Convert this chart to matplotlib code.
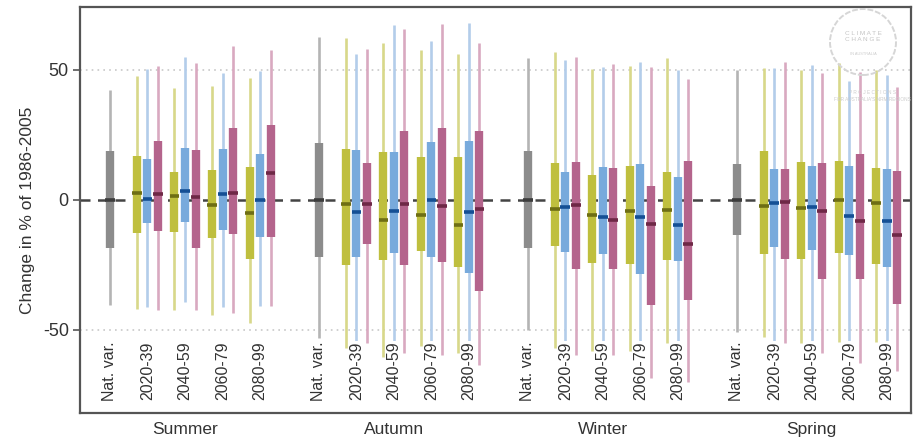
import matplotlib
matplotlib.use("Agg")
import matplotlib.pyplot as plt
from matplotlib.patches import Ellipse

plt.rcParams['font.family'] = ['Liberation Sans', 'DejaVu Sans']

seasons = ['Summer', 'Autumn', 'Winter', 'Spring']
periods = ['2020-39', '2040-59', '2060-79', '2080-99']

# natural variability, one value per season
nat_top = [42.3, 62.8, 54.7, 50.0]
nat_hi = [18.8, 22.0, 19.0, 13.7]
nat_med = [0.0, 0.0, 0.0, 0.0]
nat_lo = [-18.6, -21.8, -18.6, -13.5]
nat_bot = [-40.4, -53.0, -50.0, -51.0]

# scenarios: rows = seasons, columns = periods
rcp26_top = [[47.7, 43.2, 43.8, 46.8], [62.2, 60.3, 57.7, 56.0],
             [57.0, 50.3, 51.7, 54.7], [50.6, 50.0, 52.6, 50.0]]
rcp26_hi = [[16.9, 10.8, 11.5, 12.8], [19.5, 18.5, 16.4, 16.4],
            [14.1, 9.4, 13.2, 10.9], [19.0, 14.4, 15.0, 12.2]]
rcp26_med = [[2.7, 1.4, -1.9, -5.1], [-1.5, -7.7, -6.0, -9.6],
             [-3.5, -6.0, -4.1, -3.8], [-2.3, -3.2, 0.0, -1.3]]
rcp26_lo = [[-12.6, -12.2, -14.5, -22.7], [-25.0, -23.0, -19.5, -26.0],
            [-17.6, -24.4, -24.7, -23.0], [-20.8, -22.8, -20.5, -24.7]]
rcp26_bot = [[-42.0, -42.3, -44.2, -47.4], [-57.0, -60.3, -56.4, -59.0],
             [-57.0, -58.3, -58.3, -55.1], [-52.6, -55.1, -54.5, -54.5]]

rcp45_top = [[50.3, 55.1, 49.0, 49.6], [56.2, 67.3, 61.3, 68.2],
             [53.8, 51.0, 53.2, 50.0], [50.6, 51.9, 45.8, 48.0]]
rcp45_hi = [[15.6, 20.1, 19.5, 17.6], [19.2, 18.3, 22.2, 22.7],
            [10.9, 12.6, 13.8, 9.0], [11.9, 13.1, 13.2, 11.9]]
rcp45_med = [[0.5, 3.6, 2.2, 0.1], [-4.7, -4.1, 0.0, -4.5],
             [-2.6, -6.7, -6.4, -9.6], [-1.3, -2.6, -6.2, -8.3]]
rcp45_lo = [[-9.0, -8.5, -11.5, -14.1], [-21.8, -20.5, -21.8, -28.0],
            [-19.9, -20.8, -28.5, -23.7], [-18.2, -19.2, -21.2, -25.9]]
rcp45_bot = [[-41.3, -39.1, -41.3, -41.0], [-58.0, -60.0, -60.0, -62.0],
             [-58.0, -60.0, -62.0, -60.0], [-55.0, -57.0, -58.0, -60.0]]

rcp85_top = [[51.7, 52.6, 59.4, 57.7], [57.9, 65.6, 67.7, 60.5],
             [55.1, 52.2, 51.3, 46.5], [53.0, 48.7, 49.4, 43.3]]
rcp85_hi = [[22.7, 19.2, 27.6, 28.8], [14.1, 26.5, 27.8, 26.5],
            [14.7, 12.2, 5.5, 15.0], [11.9, 14.1, 17.6, 11.3]]
rcp85_med = [[2.4, 1.3, 2.8, 10.5], [-1.5, -1.5, -2.3, -3.6],
             [-2.1, -7.9, -9.4, -16.9], [-0.9, -4.1, -8.3, -13.5]]
rcp85_lo = [[-11.9, -18.6, -13.2, -14.4], [-16.9, -25.0, -24.0, -34.9],
            [-26.7, -26.7, -40.4, -38.5], [-22.8, -30.5, -30.5, -40.0]]
rcp85_bot = [[-42.3, -42.3, -43.6, -41.0], [-55.0, -59.0, -59.6, -63.5],
             [-59.6, -59.6, -68.6, -69.9], [-55.1, -59.0, -62.8, -66.0]]

scenarios = [
    (rcp26_top, rcp26_hi, rcp26_med, rcp26_lo, rcp26_bot, -0.28,
     '#d8d88a', '#bfbf3e', '#6e6e14'),
    (rcp45_top, rcp45_hi, rcp45_med, rcp45_lo, rcp45_bot, 0.0,
     '#b3cdea', '#78aadc', '#144f94'),
    (rcp85_top, rcp85_hi, rcp85_med, rcp85_lo, rcp85_bot, 0.28,
     '#d9a9c0', '#b4648c', '#6e2846'),
]

season_step = 5.57
txt = '#333333'

fig = plt.figure(figsize=(9.14, 4.41), dpi=100)
ax = fig.add_axes([0.0875, 0.0635, 0.909, 0.9205])


def draw_bar(x, top, hi, med, lo, bot, c_wh, c_box, c_med):
    ax.vlines(x, bot, top, color=c_wh, lw=1.9, zorder=2)
    ax.vlines(x, lo, hi, color=c_box, lw=6.0, zorder=3)
    ax.hlines(med, x - 0.13, x + 0.13, color=c_med, lw=2.6, zorder=4)


ax.axhline(0, color='#444444', lw=1.8, ls=(0, (4, 3)), zorder=1)
for g in (50, -50):
    ax.axhline(g, color='#c8c8c8', lw=1.2, ls=(0, (1, 2.5)), zorder=1)

for s in range(len(seasons)):
    x0 = s * season_step
    draw_bar(x0, nat_top[s], nat_hi[s], nat_med[s], nat_lo[s], nat_bot[s],
             '#b4b4b4', '#8c8c8c', '#3c3c3c')
    ax.text(x0, -54.5, 'Nat. var.', rotation=90, ha='center', va='top',
            fontsize=11.5, color=txt, zorder=6,
            bbox=dict(fc='white', ec='none', pad=0.3))
    for p in range(len(periods)):
        xp = x0 + p + 1
        for top, hi, med, lo, bot, off, cw, cb, cm in scenarios:
            draw_bar(xp + off, top[s][p], hi[s][p], med[s][p], lo[s][p],
                     bot[s][p], cw, cb, cm)
        ax.text(xp, -54.5, periods[p], rotation=90, ha='center', va='top',
                fontsize=11.5, color=txt, zorder=6,
                bbox=dict(fc='white', ec='none', pad=0.3))
    ax.text(x0 + 2, -85.5, seasons[s], ha='center', va='top',
            fontsize=12.5, color=txt, clip_on=False)

ax.set_xlim(-0.8, 3 * season_step + 4.64)
ax.set_ylim(-82, 74.2)
ax.set_xticks([])
ax.set_yticks([50, 0, -50])
ax.set_yticklabels(['50', '0', '-50'])
ax.tick_params(axis='y', length=5, width=1.2, color='#555555', pad=3,
               labelsize=13, labelcolor=txt)
ax.set_ylabel('Change in % of 1986-2005', fontsize=12.5, color=txt,
              labelpad=6)
for sp in ax.spines.values():
    sp.set_color('#555555')
    sp.set_linewidth(1.6)

# faint logo watermark in the top right corner
cx, cy = 863 / 914, 1 - 42 / 441
fig.patches.append(Ellipse((cx, cy), 66 / 914, 66 / 441,
                           transform=fig.transFigure, fill=False,
                           ec='#d6d6d6', lw=1.4, ls=(0, (3, 1)),
                           figure=fig, zorder=7))
fig.text(cx, cy + 0.012, 'C L I M A T E\nC H A N G E', ha='center',
         va='center', fontsize=4.6, color='#c4c4c4', linespacing=1.3,
         zorder=8)
fig.text(cx, cy - 0.027, 'IN AUSTRALIA', ha='center', va='center',
         fontsize=2.8, color='#cccccc', zorder=8)
fig.text(0.955, 1 - 96 / 441, 'P R O J E C T I O N S\n'
         'FOR AUSTRALIA\'S NRM REGIONS', ha='center', va='center',
         fontsize=3.4, color='#cccccc', linespacing=1.6, zorder=8)

fig.savefig('out.png', dpi=100)
